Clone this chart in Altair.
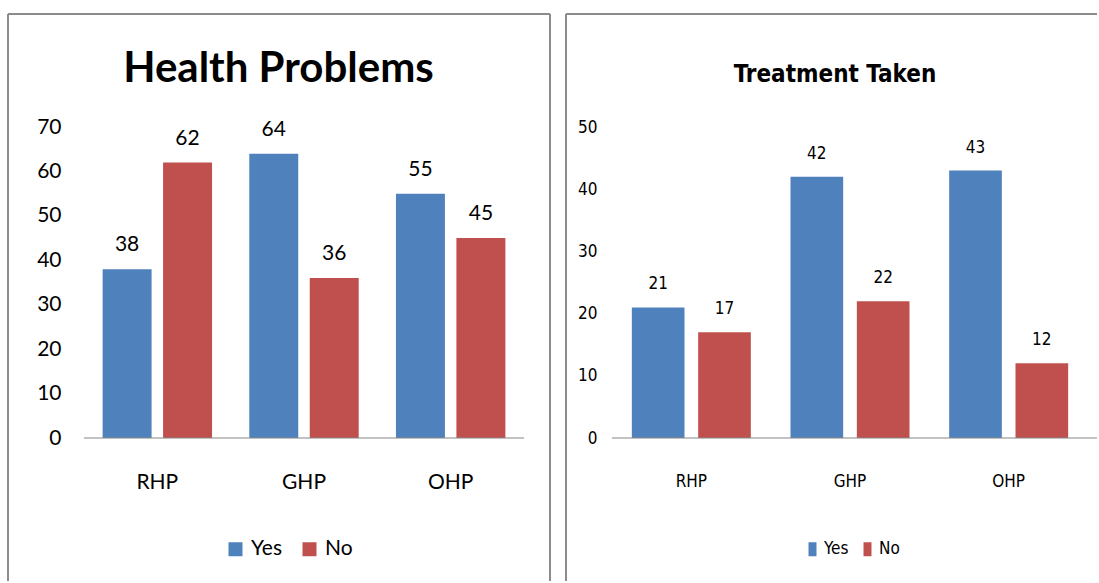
import altair as alt
import pandas as pd

# Survey results: share of respondents (Yes / No) per problem group
categories = ["RHP", "GHP", "OHP"]
answers = ["Yes", "No"]
health_yes = [38, 64, 55]
health_no = [62, 36, 45]
treatment_yes = [21, 42, 43]
treatment_no = [17, 22, 12]
health_ticks = [0, 10, 20, 30, 40, 50, 60, 70]
treatment_ticks = [0, 10, 20, 30, 40, 50]

BLUE = "#4F81BD"
RED = "#C0504D"
FRAME = "#8c8c8c"
AXIS_LINE = "#868686"

WIDE_FONT = "Lato"
NARROW_FONT = "Liberation Sans Narrow, DejaVu Sans Condensed, sans-serif"


def frame_rule(**enc):
    return alt.Chart(alt.Data(values=[{}])).mark_rule(
        color=FRAME, strokeWidth=2
    ).encode(**enc)


def panel(title, yes, no, ticks, ymax, width, font, tick_size, title_size,
          band_inner, offset_inner, ylabel_pad, xlabel_pad,
          title_x, legend_x, legend_y, legend_symbol, legend_gap,
          legend_label_offset, frame_left, frame_right, show_right):
    df = pd.DataFrame({
        "cat": categories * 2,
        "ans": [answers[0]] * 3 + [answers[1]] * 3,
        "val": yes + no,
    })
    x = alt.X(
        "cat:N", sort=categories,
        scale=alt.Scale(paddingInner=band_inner, paddingOuter=band_inner / 2),
        axis=alt.Axis(title=None, labelAngle=0, domain=False, ticks=False,
                      tickSize=0, labelFont=font, labelFontSize=tick_size,
                      labelColor="#000000", labelPadding=xlabel_pad),
    )
    xo = alt.XOffset("ans:N", sort=answers,
                     scale=alt.Scale(paddingInner=offset_inner, paddingOuter=0))
    y = alt.Y(
        "val:Q", scale=alt.Scale(domain=[0, ymax], nice=False),
        axis=alt.Axis(title=None, values=ticks, grid=False, domain=False,
                      ticks=False, tickSize=0, labelFont=font,
                      labelFontSize=tick_size, labelColor="#000000",
                      labelPadding=ylabel_pad),
    )
    color = alt.Color(
        "ans:N", sort=answers,
        scale=alt.Scale(domain=answers, range=[BLUE, RED]),
        legend=alt.Legend(
            title=None, orient="none", direction="horizontal",
            legendX=legend_x, legendY=legend_y, padding=0,
            symbolType=legend_symbol, symbolSize=196, symbolStrokeWidth=0,
            symbolOpacity=1, labelFont=font, labelFontSize=tick_size,
            labelColor="#000000", labelOffset=legend_label_offset,
            columnPadding=legend_gap,
        ),
    )
    base = alt.Chart(df)
    bars = base.mark_bar().encode(x=x, xOffset=xo, y=y, color=color)
    values = base.mark_text(
        dy=-18, baseline="alphabetic", font=font, fontSize=tick_size,
        color="#000000",
    ).encode(x=x, xOffset=xo, y=y, text="val:Q")
    baseline = alt.Chart(alt.Data(values=[{"v": 0}])).mark_rule(
        color=AXIS_LINE, strokeWidth=1
    ).encode(y=alt.Y("v:Q"), x=alt.value(0),
             x2=alt.value(width if show_right else frame_right))
    heading = alt.Chart(alt.Data(values=[{"t": title}])).mark_text(
        font=font, fontSize=title_size, fontWeight="bold", align="center",
        baseline="alphabetic", color="#000000",
    ).encode(x=alt.value(title_x), y=alt.value(-45), text="t:N")

    layers = [bars, values, baseline, heading,
              frame_rule(x=alt.value(frame_left), y=alt.value(-113), y2=alt.value(454)),
              frame_rule(y=alt.value(-113), x=alt.value(frame_left), x2=alt.value(frame_right))]
    if show_right:
        layers.append(frame_rule(x=alt.value(frame_right), y=alt.value(-113), y2=alt.value(454)))
    return alt.layer(*layers).properties(width=width, height=311)


left = panel(
    "Health Problems", health_yes, health_no, health_ticks, 70, 440,
    WIDE_FONT, 21, 42, 0.254, 0.19, 23, 33,
    194.5, 141, 411.5, "square", 17, 5, -76, 466, True,
)
right = panel(
    "Treatment Taken", treatment_yes, treatment_no, treatment_ticks, 50, 476,
    NARROW_FONT, 17, 24, 0.25, 0.206, 15, 35,
    223, 192, 413.5, "M-0.57,-1H0.57V1H-0.57Z", 10, 3, -46, 485, False,
)

chart = alt.hconcat(left, right, spacing=14).resolve_legend(
    color="independent"
).resolve_scale(color="independent", xOffset="independent").properties(
    padding={"left": 7, "top": 13, "right": 0, "bottom": 0},
    background="white",
).configure_view(stroke=None)

chart.save("out.html", embed_options={"renderer": "svg", "actions": False})
